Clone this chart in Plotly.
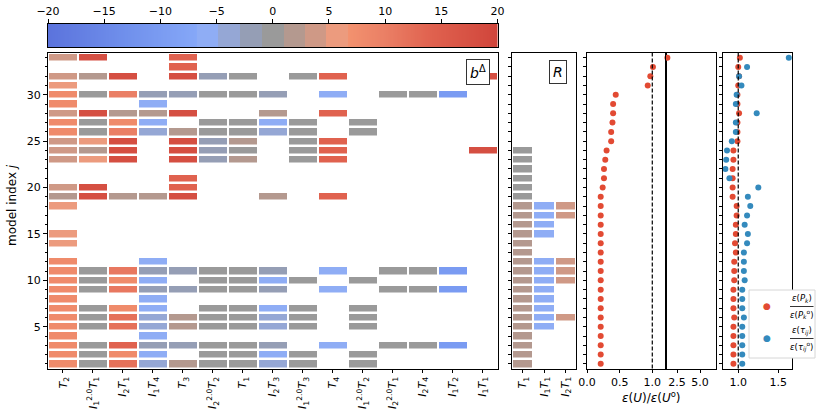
import plotly.graph_objects as go

N = None
W, H = 830, 416

# ---------------- data ----------------
# main panel columns (b^Delta)
col_labels = [
    "<i>T</i><sub>2</sub>",
    "<i>I</i><sub>1</sub><sup>2.0</sup><i>T</i><sub>1</sub>",
    "<i>I</i><sub>2</sub><i>T</i><sub>1</sub>",
    "<i>I</i><sub>1</sub><i>T</i><sub>4</sub>",
    "<i>T</i><sub>3</sub>",
    "<i>I</i><sub>2</sub><sup>2.0</sup><i>T</i><sub>2</sub>",
    "<i>T</i><sub>1</sub>",
    "<i>I</i><sub>2</sub><i>T</i><sub>3</sub>",
    "<i>I</i><sub>1</sub><sup>2.0</sup><i>T</i><sub>3</sub>",
    "<i>T</i><sub>4</sub>",
    "<i>I</i><sub>1</sub><sup>2.0</sup><i>T</i><sub>2</sub>",
    "<i>I</i><sub>2</sub><sup>2.0</sup><i>T</i><sub>1</sub>",
    "<i>I</i><sub>2</sub><i>T</i><sub>4</sub>",
    "<i>I</i><sub>1</sub><i>T</i><sub>2</sub>",
    "<i>I</i><sub>1</sub><i>T</i><sub>1</sub>",
]

# rows from model index j = 34 (top) down to j = 1
bdelta_rows = [
    [4, 18, N, N, 14, N, N, N, N, N, N, N, N, N, N],      # 34
    [N, N, N, N, 14, N, N, N, N, N, N, N, N, N, N],       # 33
    [4, 2, 18, N, 18, -2, 0, N, 0, 14, N, N, N, N, 18],   # 32
    [6, N, N, N, N, N, N, N, N, N, N, N, N, N, N],        # 31
    [8, 0, 10, -2, -2, 0, 0, -2, N, -6, N, 0, 0, -10, N], # 30
    [8, N, N, -6, N, N, N, N, N, N, N, N, N, N, N],       # 29
    [4, 18, 2, 2, 18, N, N, 2, N, 14, N, N, N, N, N],     # 28
    [8, 0, 8, -6, N, 0, 0, -6, 0, N, 0, N, N, N, N],      # 27
    [8, 0, 10, -4, 2, 0, 0, -4, 0, N, 0, N, N, N, N],     # 26
    [4, 6, 18, N, 18, -2, 2, N, 0, 14, N, N, N, N, N],    # 25
    [4, 2, 18, N, 18, -2, 0, N, 0, 14, N, N, N, N, 18],   # 24
    [4, 6, 18, N, 18, -2, 2, N, 0, 14, N, N, N, N, N],    # 23
    [N, N, N, N, N, N, N, N, N, N, N, N, N, N, N],        # 22
    [N, N, N, N, 14, N, N, N, N, N, N, N, N, N, N],       # 21
    [4, 18, N, N, 14, N, N, N, N, N, N, N, N, N, N],      # 20
    [2, 18, 2, 2, 18, N, N, 2, N, 14, N, N, N, N, N],     # 19
    [6, N, N, N, N, N, N, N, N, N, N, N, N, N, N],        # 18
    [N, N, N, N, N, N, N, N, N, N, N, N, N, N, N],        # 17
    [N, N, N, N, N, N, N, N, N, N, N, N, N, N, N],        # 16
    [6, N, N, N, N, N, N, N, N, N, N, N, N, N, N],        # 15
    [6, N, N, N, N, N, N, N, N, N, N, N, N, N, N],        # 14
    [N, N, N, N, N, N, N, N, N, N, N, N, N, N, N],        # 13
    [8, N, N, -6, N, N, N, N, N, N, N, N, N, N, N],       # 12
    [8, 0, 11, -2, -2, 0, 0, -2, N, -6, N, 0, 0, -10, N], # 11
    [8, 0, 8, -6, N, 0, 0, -6, 0, N, 0, N, N, N, N],      # 10
    [8, 0, 11, -2, -2, 0, 0, -2, N, -6, N, 0, 0, -10, N], # 9
    [8, N, N, -6, N, N, N, N, N, N, N, N, N, N, N],       # 8
    [8, 0, 8, -6, N, 0, 0, -6, 0, N, 0, N, N, N, N],      # 7
    [8, 0, 12, -4, 2, 0, 0, -4, 0, N, 0, N, N, N, N],     # 6
    [8, 0, 12, -4, 2, 0, 0, -4, 0, N, 0, N, N, N, N],     # 5
    [8, N, N, -6, N, N, N, N, N, N, N, N, N, N, N],       # 4
    [8, 0, 14, -2, -2, 0, 0, -2, N, -6, N, 0, 0, -10, N], # 3
    [8, 0, 8, -6, N, 0, 0, -6, 0, N, 0, N, N, N, N],      # 2
    [8, 0, 12, -4, 2, 0, 0, -4, 0, N, 0, N, N, N, N],     # 1
]
model_j = list(range(34, 0, -1))

# R panel (j = 1 .. 34)
r_labels = ["<i>T</i><sub>1</sub>", "<i>I</i><sub>1</sub><i>T</i><sub>1</sub>", "<i>I</i><sub>2</sub><i>T</i><sub>1</sub>"]
r_T1 =   [2, 2, 2, 2, 2, 2, 2, 2, 2, 2, 2, 2, 2, 2, 2, 2, 2, 2, 0, 0, 0, 0, 0, 0, N, N, N, N, N, N, N, N, N, N]
r_I1T1 = [N, N, N, N, -6, -6, -6, -6, -6, -6, -6, -6, N, N, -6, -6, -6, -6, N, N, N, N, N, N, N, N, N, N, N, N, N, N, N, N]
r_I2T1 = [N, N, N, N, N, 4, N, N, N, 4, 4, 4, N, N, N, N, 4, 4, N, N, N, N, N, N, N, N, N, N, N, N, N, N, N, N]
r_j = list(range(1, 35))

# error ratio eps(U)/eps(U0) for j = 1 .. 34
err_U = [0.21, 0.21, 0.21, 0.21, 0.21, 0.21, 0.21, 0.21, 0.21, 0.21, 0.21, 0.21, 0.21,
         0.21, 0.21, 0.21, 0.21, 0.21, 0.21, 0.24, 0.26, 0.26, 0.28, 0.30, 0.37, 0.37,
         0.39, 0.40, 0.40, 0.44, 0.93, 0.97, 1.01, 1.45]
# eps(P_k)/eps(P_k0) and eps(tau)/eps(tau0)
err_P = [0.94, 0.94, 0.94, 0.94, 0.94, 0.95, 0.94, 0.94, 0.94, 0.95, 0.95, 0.95, 0.97,
         0.96, 0.97, 0.97, 0.98, 0.98, 0.93, 0.93, 0.93, 0.93, 0.94, 0.94, 0.99, 0.99,
         0.99, 1.01, 0.99, 0.99, 1.00, 1.01, 1.00, 1.02]
err_tau = [1.05, 1.05, 1.05, 1.05, 1.05, 1.07, 1.05, 1.05, 1.05, 1.08, 1.07, 1.07, 1.07,
           1.11, 1.12, 1.08, 1.11, 1.15, 1.12, 1.25, 0.89, 0.84, 0.85, 0.86, 0.92, 0.97,
           0.97, 1.23, 0.97, 0.98, 1.04, 1.01, 1.11, 1.63]

cbar_ticks = [-20, -15, -10, -5, 0, 5, 10, 15, 20]
legend_num = ["<i>ε</i>(<i>P</i><sub><i>k</i></sub>)",
              "<i>ε</i>(<i>τ</i><sub><i>ij</i></sub>)"]
legend_den = ["<i>ε</i>(<i>P</i><sub><i>k</i></sub><sup>o</sup>)",
              "<i>ε</i>(<i>τ</i><sub><i>ij</i></sub><sup>o</sup>)"]

# ---------------- colour scale ----------------
def t(v):
    return (v + 20) / 40

cscale = [
    [t(-20), "#5b73dc"], [t(-13), "#7090ec"], [t(-6.7), "#86a8f8"],
    [t(-6.7), "#8fadf5"], [t(-4.8), "#8fadf5"],
    [t(-4.8), "#95a7d5"], [t(-2.9), "#95a7d5"],
    [t(-2.9), "#959eb5"], [t(-0.95), "#959eb5"],
    [t(-0.95), "#9a9a9a"], [t(0.95), "#9a9a9a"],
    [t(0.95), "#b4998f"], [t(2.9), "#b4998f"],
    [t(2.9), "#cf9986"], [t(4.8), "#cf9986"],
    [t(4.8), "#ec9b7e"], [t(6.7), "#ec9b7e"],
    [t(6.7), "#f3926f"], [t(10), "#ea7f65"], [t(14), "#e0624f"], [t(20), "#d0453b"],
]

RED = "#E24A33"
BLUE = "#348ABD"
FONT = "DejaVu Sans"

def px(x):
    return x / W

def py(y):
    return 1 - y / H

fig = go.Figure()

# main heatmap
fig.add_trace(go.Heatmap(
    z=bdelta_rows, x=list(range(len(col_labels))), y=model_j,
    colorscale=cscale, zmin=-20, zmax=20, showscale=False,
    xgap=2, ygap=2.5, xaxis="x", yaxis="y", hoverongaps=False))

# R panel
fig.add_trace(go.Heatmap(
    z=[list(r) for r in zip(r_T1, r_I1T1, r_I2T1)], x=[0, 1, 2], y=r_j,
    colorscale=cscale, zmin=-20, zmax=20, showscale=False,
    xgap=2, ygap=2.5, xaxis="x2", yaxis="y2", hoverongaps=False))

# colour bar strip
cb_x = [-20 + 0.1 * i for i in range(401)]
fig.add_trace(go.Heatmap(
    z=[cb_x], x=cb_x, y=[0], colorscale=cscale, zmin=-20, zmax=20,
    showscale=False, xaxis="x6", yaxis="y6"))

# error panel (broken axis)
lo = [(v, j) for v, j in zip(err_U, r_j) if v <= 1.25]
hi = [(v, j) for v, j in zip(err_U, r_j) if v > 1.25]
fig.add_trace(go.Scatter(x=[a for a, b in lo], y=[b for a, b in lo], mode="markers",
                         marker=dict(color=RED, size=6), showlegend=False,
                         xaxis="x3", yaxis="y3"))
fig.add_trace(go.Scatter(x=[a for a, b in hi], y=[b for a, b in hi], mode="markers",
                         marker=dict(color=RED, size=6), showlegend=False, cliponaxis=False,
                         xaxis="x4", yaxis="y4"))

# last panel
fig.add_trace(go.Scatter(x=err_P, y=r_j, mode="markers", marker=dict(color=RED, size=6),
                         showlegend=False, xaxis="x5", yaxis="y5"))
fig.add_trace(go.Scatter(x=err_tau, y=r_j, mode="markers", marker=dict(color=BLUE, size=6),
                         showlegend=False, xaxis="x5", yaxis="y5"))

ydom = [py(368.5), py(53)]
frame = dict(showline=True, linecolor="black", linewidth=1, mirror=True,
             showgrid=False, zeroline=False, tickcolor="black", automargin=False,
             tickfont=dict(size=11, family=FONT, color="black"))
yrange = [0.5, 34.5]
small_y = dict(range=yrange, domain=ydom, tickvals=r_j, ticks="outside", ticklen=3,
               showticklabels=False, **frame)

fig.update_layout(
    width=W, height=H, autosize=False,
    margin=dict(l=0, r=0, t=0, b=0, pad=0),
    paper_bgcolor="white", plot_bgcolor="white",
    font=dict(family=FONT, size=11, color="black"),
    showlegend=False,
    xaxis=dict(domain=[px(48), px(497.5)], range=[-0.5, 14.5], anchor="y",
               tickvals=list(range(15)), ticktext=col_labels, tickangle=-90,
               ticks="outside", ticklen=3, **frame),
    yaxis=dict(domain=ydom, range=yrange, anchor="x", tickvals=[5, 10, 15, 20, 25, 30],
               ticks="outside", ticklen=4,
               minor=dict(ticks="outside", ticklen=2, dtick=1, tick0=0, tickcolor="black"),
               **frame),
    xaxis2=dict(domain=[px(512), px(576)], range=[-0.5, 2.5], anchor="y2",
                tickvals=[0, 1, 2], ticktext=r_labels, tickangle=-90,
                ticks="outside", ticklen=3, **frame),
    yaxis2=dict(anchor="x2", **small_y),
    xaxis3=dict(domain=[px(587), px(666)], range=[0, 1.21], anchor="y3",
                tickvals=[0, 0.5, 1.0], ticktext=["0.0", "0.5", "1.0"],
                ticks="outside", ticklen=3, **frame),
    yaxis3=dict(anchor="x3", **small_y),
    xaxis4=dict(domain=[px(666), px(716)], range=[1.3, 6.74], anchor="y4",
                tickvals=[2.5, 5.0], ticktext=["2.5", "5.0"],
                ticks="outside", ticklen=3, **frame),
    yaxis4=dict(anchor="x4", range=yrange, domain=ydom, showticklabels=False, ticks="", **frame),
    xaxis5=dict(domain=[px(723), px(792)], range=[0.81, 1.67], anchor="y5",
                tickvals=[1.0, 1.5], ticktext=["1.0", "1.5"],
                ticks="outside", ticklen=3, **frame),
    yaxis5=dict(anchor="x5", **small_y),
    xaxis6=dict(domain=[px(48), px(497.5)], range=[-20, 20], anchor="y6", side="top",
                tickvals=cbar_ticks, ticks="outside", ticklen=4, **frame),
    yaxis6=dict(domain=[py(47), py(24)], range=[-0.5, 0.5], anchor="x6",
                showticklabels=False, ticks="", **frame),
)

# dashed reference lines at 1.0
for xr, yr in (("x3", "y3"), ("x5", "y5")):
    fig.add_shape(type="line", x0=1, x1=1, y0=0, y1=1, xref=xr, yref=f"{yr} domain",
                  line=dict(color="black", width=1.2, dash="4px,2px"))

def note(x, y, text, size, **kw):
    fig.add_annotation(x=px(x), y=py(y), xref="paper", yref="paper", text=text,
                       showarrow=False, xanchor="center", yanchor="middle",
                       font=dict(size=size, family=FONT, color=kw.pop("color", "black")), **kw)

# legend box (drawn manually to match the compact reference legend)
fig.add_shape(type="rect", xref="paper", yref="paper",
              x0=px(749), x1=px(815), y0=py(358), y1=py(290),
              fillcolor="white", line=dict(color="#d6d6d6", width=1))
for k, (yc, col) in enumerate(((306, RED), (338, BLUE))):
    note(767, yc, "●", 9, color=col)
    note(801.5, yc - 7.5, legend_num[k], 8.5)
    note(801.5, yc + 8, legend_den[k], 8.5)
    fig.add_shape(type="line", xref="paper", yref="paper",
                  x0=px(790), x1=px(813.5), y0=py(yc + 0.5), y1=py(yc + 0.5),
                  line=dict(color="black", width=0.8))

# panel labels
note(478, 72, "<i>b</i><sup>Δ</sup>", 14, bgcolor="white",
     bordercolor="#333333", borderwidth=1, borderpad=3)
note(558, 72, "<i>R</i>", 14, bgcolor="white",
     bordercolor="#333333", borderwidth=1, borderpad=3)
note(12, 205, "model index <i>j</i>", 12, textangle=-90)
note(651, 397, "<i>ε</i>(<i>U</i>)/<i>ε</i>(<i>U</i><sup>o</sup>)", 12)

fig.write_html("out.html", config={"displayModeBar": False},
               post_script="document.body.style.margin='0px';document.body.style.padding='0px';")
